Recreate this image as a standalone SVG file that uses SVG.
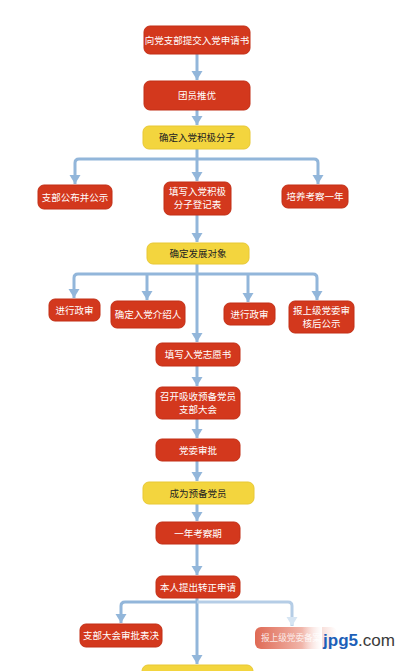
<svg xmlns="http://www.w3.org/2000/svg" width="398" height="671" viewBox="0 0 398 671">
<style>
.r{fill:#d3381d;stroke:#c22f16;stroke-width:1}
.y{fill:#f3d53e;stroke:#e8c834;stroke-width:1}
.tw{font-family:"Noto Sans CJK SC","Noto Sans",sans-serif;font-size:9.5px;fill:#ffffff;text-anchor:middle}
.tk{font-family:"Noto Sans CJK SC","Noto Sans",sans-serif;font-size:9.5px;fill:#222222;text-anchor:middle}
.c{fill:none;stroke:#92b6da;stroke-width:3;stroke-linejoin:round}
</style>
<defs>
<marker id="a" markerUnits="userSpaceOnUse" markerWidth="12" markerHeight="12" refX="9" refY="6" orient="auto">
<path d="M0,0.5 L9,6 L0,11.5 z" fill="#92b6da"/>
</marker>
<marker id="af" markerUnits="userSpaceOnUse" markerWidth="12" markerHeight="12" refX="9" refY="6" orient="auto">
<path d="M0,0.5 L9,6 L0,11.5 z" fill="#d6e5f3"/>
</marker>
<linearGradient id="fade" x1="0" y1="0" x2="1" y2="0">
<stop offset="0" stop-color="#df6a55"/>
<stop offset="0.55" stop-color="#f0b2a6"/>
<stop offset="1" stop-color="#ffffff"/>
</linearGradient>
<linearGradient id="wfade" x1="0" y1="0" x2="1" y2="0">
<stop offset="0" stop-color="#ffffff" stop-opacity="0"/>
<stop offset="1" stop-color="#ffffff" stop-opacity="1"/>
</linearGradient>
</defs>
<rect width="398" height="671" fill="#ffffff"/>
<g id="connectors">
<path class="c" d="M197,54 V80" marker-end="url(#a)"/>
<path class="c" d="M197,110 V125" marker-end="url(#a)"/>
<path class="c" d="M197,149 V181" marker-end="url(#a)"/>
<path class="c" d="M197,159 H79 Q75,159 75,163 V184" marker-end="url(#a)"/>
<path class="c" d="M197,159 H314 Q318,159 318,163 V184" marker-end="url(#a)"/>
<path class="c" d="M197,215 V242" marker-end="url(#a)"/>
<path class="c" d="M197,264 V342" marker-end="url(#a)"/>
<path class="c" d="M197,274 H78 Q74,274 74,278 V298" marker-end="url(#a)"/>
<path class="c" d="M147,274 V300" marker-end="url(#a)"/>
<path class="c" d="M197,274 H313 Q317,274 317,278 V300" marker-end="url(#a)"/>
<path class="c" d="M248,274 V302" marker-end="url(#a)"/>
<path class="c" d="M197,366 V386" marker-end="url(#a)"/>
<path class="c" d="M197,419 V438" marker-end="url(#a)"/>
<path class="c" d="M197,461 V481" marker-end="url(#a)"/>
<path class="c" d="M197,504 V521" marker-end="url(#a)"/>
<path class="c" d="M197,544 V575" marker-end="url(#a)"/>
<path class="c" d="M197,598 V664" marker-end="url(#a)"/>
<path class="c" d="M197,602 H125 Q121,602 121,606 V623" marker-end="url(#a)"/>
<path d="M197,602 H288 Q292,602 292,606 V626" fill="none" stroke="#b5cde6" stroke-width="3" stroke-linejoin="round" marker-end="url(#af)"/>
</g>
<g id="n1"><rect class="r" x="144" y="26" width="106" height="28" rx="6"/><text class="tw" x="197" y="43.5">向党支部提交入党申请书</text></g>
<g id="n2"><rect class="r" x="144" y="81" width="106" height="29" rx="6"/><text class="tw" x="197" y="99">团员推优</text></g>
<g id="n3"><rect class="y" x="143" y="126" width="107" height="23" rx="6"/><text class="tk" x="197" y="141">确定入党积极分子</text></g>
<g id="n4"><rect class="r" x="38" y="185" width="74" height="24" rx="6"/><text class="tw" x="75" y="200.5">支部公布并公示</text></g>
<g id="n5"><rect class="r" x="164" y="182" width="67" height="33" rx="6"/><text class="tw" x="197.5" y="195">填写入党积极</text><text class="tw" x="197.5" y="208">分子登记表</text></g>
<g id="n6"><rect class="r" x="282" y="185" width="66" height="23" rx="6"/><text class="tw" x="315" y="200">培养考察一年</text></g>
<g id="n7"><rect class="y" x="147" y="243" width="102" height="21" rx="6"/><text class="tk" x="198" y="257">确定发展对象</text></g>
<g id="n8"><rect class="r" x="49" y="299" width="51" height="22" rx="6"/><text class="tw" x="74.5" y="313.5">进行政审</text></g>
<g id="n9"><rect class="r" x="111" y="301" width="74" height="27" rx="6"/><text class="tw" x="148" y="318">确定入党介绍人</text></g>
<g id="n10"><rect class="r" x="224" y="303" width="51" height="22" rx="6"/><text class="tw" x="249.5" y="317.5">进行政审</text></g>
<g id="n11"><rect class="r" x="289" y="301" width="65" height="32" rx="6"/><text class="tw" x="321.5" y="314">报上级党委审</text><text class="tw" x="321.5" y="327">核后公示</text></g>
<g id="n12"><rect class="r" x="156" y="343" width="84" height="23" rx="6"/><text class="tw" x="198" y="358">填写入党志愿书</text></g>
<g id="n13"><rect class="r" x="156" y="387" width="84" height="32" rx="6"/><text class="tw" x="198" y="400">召开吸收预备党员</text><text class="tw" x="198" y="413">支部大会</text></g>
<g id="n14"><rect class="r" x="156" y="439" width="84" height="22" rx="6"/><text class="tw" x="198" y="453.5">党委审批</text></g>
<g id="n15"><rect class="y" x="143" y="482" width="111" height="22" rx="6"/><text class="tk" x="198" y="496.5">成为预备党员</text></g>
<g id="n16"><rect class="r" x="156" y="522" width="84" height="22" rx="6"/><text class="tw" x="198" y="536.5">一年考察期</text></g>
<g id="n17"><rect class="r" x="156" y="576" width="84" height="22" rx="6"/><text class="tw" x="198" y="590.5">本人提出转正申请</text></g>
<g id="n18"><rect class="r" x="80" y="624" width="82" height="23" rx="6"/><text class="tw" x="121" y="639">支部大会审批表决</text></g>
<g id="n19"><rect x="255" y="627" width="82" height="22" rx="6" fill="url(#fade)"/><text class="tw" x="261" y="641.3" style="text-anchor:start;font-size:8.6px" fill-opacity="0.85">报上级党委备案</text><rect x="302" y="622" width="20" height="32" fill="url(#wfade)"/></g>
<g id="n20"><rect class="y" x="142" y="665" width="111" height="22" rx="6"/></g>
<text x="323" y="646" font-family="'Liberation Sans',Arial,sans-serif" font-size="17" font-weight="bold" textLength="72" lengthAdjust="spacingAndGlyphs"><tspan fill="#1d5fb8">jpg5</tspan><tspan fill="#3a3a3a" font-weight="normal">.com</tspan></text>
</svg>
